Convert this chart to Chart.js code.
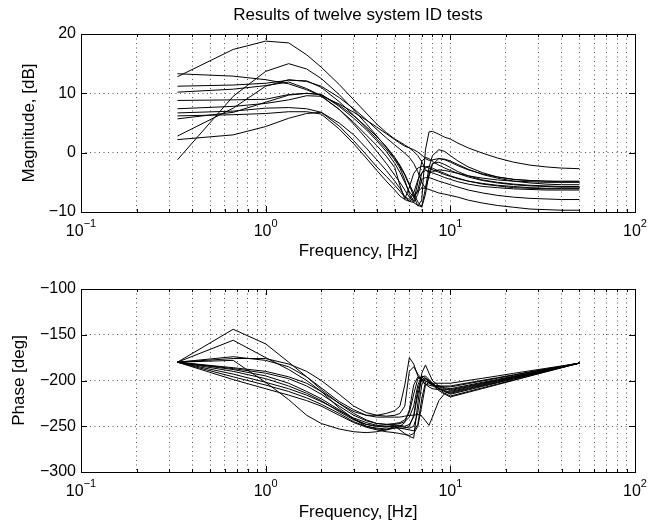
<!DOCTYPE html>
<html>
<head>
<meta charset="utf-8">
<script src="https://cdn.jsdelivr.net/npm/chart.js@4.4.1/dist/chart.umd.min.js"></script>
<style>
  html, body { margin: 0; padding: 0; background: #fff; }
  #wrap { position: relative; width: 660px; height: 523px; }
  #magBox { position: absolute; left: 0; top: 0; width: 660px; height: 262px; }
  #phBox { position: absolute; left: 0; top: 262px; width: 660px; height: 261px; }
</style>
</head>
<body>
<div id="wrap">
  <div id="magBox"><canvas id="mag" width="660" height="262"></canvas></div>
  <div id="phBox"><canvas id="ph" width="660" height="261"></canvas></div>
</div>
<script>
// frequencies of the measured points, Hz
const freq = [0.333, 0.667, 1.0, 1.333, 1.667, 2.0, 2.5, 3.0, 3.5, 4.0, 4.5, 5.0, 5.333, 5.667, 6.0, 6.333,
  6.667, 7.0, 7.333, 7.667, 8.0, 8.667, 9.333, 10, 11, 12.5, 15, 18, 22, 27, 33, 40, 50];

// magnitude, dB (one array per test)
const magT1 = [12.8, 17.4, 18.8, 18.5, 16.5, 14.4, 11.5, 8.9, 6.7, 4.8, 3.4, 2.3, 1.8, 1.3, 0.8, 0.2, -0.5, -1.5, -2.8, -3.5, -3.2, -2.9, -3.0, -3.2, -3.5, -3.9, -4.3, -4.6, -4.8, -4.9, -5.0, -5.0, -5.0];
const magT2 = [-1.2, 9.5, 13.7, 15.0, 14.1, 12.5, 9.8, 7.2, 4.9, 2.8, 0.9, -1.0, -2.3, -3.8, -5.5, -7.3, -9.0, -8.0, 0.5, 3.5, 3.6, 3.1, 2.6, 2.3, 1.6, 0.8, -0.1, -0.9, -1.6, -2.1, -2.4, -2.6, -2.7];
const magT3 = [2.8, 7.5, 11.2, 12.3, 12.0, 11.2, 9.3, 7.4, 5.6, 3.9, 2.5, 1.3, 0.6, -0.1, -0.8, -1.8, -3.2, -5.0, -6.0, -4.0, -2.0, -1.0, -1.2, -1.6, -2.2, -2.9, -3.6, -4.1, -4.5, -4.7, -4.8, -4.8, -4.8];
const magT4 = [13.3, 12.9, 12.3, 11.6, 10.6, 9.6, 8.2, 6.8, 5.5, 4.3, 3.2, 2.2, 1.6, 1.1, 0.8, 0.5, 0.1, -0.4, -1.0, -1.3, -1.2, -1.0, -1.1, -1.4, -2.0, -2.8, -3.7, -4.3, -4.8, -5.1, -5.3, -5.4, -5.4];
const magT5 = [11.2, 11.4, 11.7, 12.2, 12.1, 11.0, 8.6, 6.3, 4.2, 2.3, 0.6, -1.2, -2.6, -4.6, -7.0, -8.2, -5.0, -1.5, -0.8, -1.0, -1.5, -2.1, -2.6, -3.0, -3.5, -4.1, -4.7, -5.1, -5.4, -5.6, -5.7, -5.8, -5.8];
const magT6 = [10.2, 10.7, 11.3, 11.9, 10.8, 9.6, 7.3, 5.1, 3.0, 1.2, -0.6, -2.5, -5.5, -7.8, -5.8, -3.5, -2.6, -2.3, -2.4, -2.6, -2.9, -3.3, -3.7, -4.0, -4.4, -4.8, -5.3, -5.6, -5.9, -6.0, -6.1, -6.1, -6.1];
const magT7 = [8.8, 8.9, 9.0, 9.8, 10.0, 9.8, 7.8, 5.8, 3.9, 2.0, 0.2, -1.8, -3.3, -5.0, -6.6, -7.5, -6.3, -3.5, -2.4, -2.3, -2.6, -3.1, -3.5, -3.9, -4.3, -4.8, -5.2, -5.5, -5.7, -5.9, -6.0, -6.0, -6.0];
const magT8 = [7.4, 7.8, 8.3, 8.9, 9.6, 9.5, 7.3, 4.8, 2.4, 0.2, -1.8, -3.8, -5.0, -6.3, -7.5, -8.4, -8.9, -9.1, -6.0, -2.5, -0.5, 0.5, 0.2, -0.5, -1.4, -2.4, -3.4, -4.1, -4.5, -4.7, -4.8, -4.9, -4.9];
const magT9 = [6.7, 7.0, 7.5, 7.6, 7.4, 6.8, 4.5, 2.0, -0.3, -2.4, -4.0, -5.5, -6.5, -7.5, -8.2, -8.4, -7.0, -4.5, -4.2, -4.2, -4.4, -4.8, -5.1, -5.4, -5.8, -6.3, -6.8, -7.2, -7.5, -7.7, -7.8, -7.9, -7.9];
const magT10 = [6.2, 6.4, 6.6, 6.9, 6.9, 6.5, 4.0, 1.5, -0.9, -3.0, -4.8, -6.3, -7.3, -7.9, -8.2, -7.6, -6.5, -6.0, -6.0, -6.2, -6.4, -6.8, -7.0, -7.2, -7.5, -8.0, -8.5, -8.9, -9.2, -9.5, -9.6, -9.7, -9.7];
const magT11 = [5.7, 6.8, 8.5, 9.7, 10.0, 9.8, 8.0, 6.2, 4.4, 2.7, 1.0, -0.8, -2.1, -3.6, -5.3, -6.8, -8.3, -9.2, -7.0, -3.5, -1.8, -1.6, -2.0, -2.5, -3.2, -3.9, -4.6, -5.0, -5.3, -5.5, -5.6, -5.7, -5.7];
const magT12 = [2.2, 3.0, 4.4, 5.8, 6.6, 6.8, 5.0, 3.0, 0.8, -1.2, -3.0, -4.8, -6.0, -7.4, -7.9, -6.8, -4.6, -3.4, -3.0, -3.1, -3.4, -3.8, -4.2, -4.5, -4.9, -5.3, -5.7, -5.9, -6.1, -6.2, -6.3, -6.3, -6.3];

// phase, deg (one array per test)
const phT1 = [-180, -144, -160, -180, -196, -210, -225, -234, -238, -238, -236, -233, -228, -205, -175, -182, -195, -201, -204, -205, -206, -206, -206, -206, -204.5, -202.5, -199.7, -196.9, -193.8, -190.5, -187.4, -184.5, -181];
const phT2 = [-180, -156, -175, -188, -200, -212, -230, -242, -250, -253, -254, -250, -254, -258, -261, -263, -225, -192, -183, -192, -200, -206, -208, -209, -207.3, -205.1, -201.9, -198.8, -195.3, -191.7, -188.2, -184.9, -181];
const phT3 = [-180, -174, -178, -185, -196, -208, -223, -232, -238, -240, -240, -240, -240, -239, -238, -238, -237, -239, -244, -249, -240, -222, -214, -212, -210.2, -207.7, -204.2, -200.7, -196.8, -192.8, -189.0, -185.3, -181];
const phT4 = [-180, -178, -202, -221, -238, -247, -253, -256, -257, -256, -254, -252, -250, -246, -232, -205, -196, -199, -204, -207, -209, -210, -210, -210, -208.3, -206.0, -202.7, -199.4, -195.8, -192.1, -188.5, -185.0, -181];
const phT5 = [-180, -186, -190, -196, -203, -212, -225, -236, -243, -247, -248, -247, -246, -243, -235, -215, -198, -196, -200, -203, -205, -206, -207, -207, -205.5, -203.4, -200.5, -197.5, -194.3, -190.9, -187.7, -184.6, -181];
const phT6 = [-180, -187, -192, -198, -206, -215, -228, -238, -244, -247, -248, -248, -247, -245, -240, -228, -205, -195, -197, -201, -204, -207, -209, -211, -209.2, -206.8, -203.4, -200.1, -196.3, -192.5, -188.7, -185.2, -181];
const phT7 = [-180, -188, -195, -203, -212, -220, -232, -242, -248, -250, -250, -249, -249, -250, -248, -240, -215, -199, -198, -202, -205, -209, -211, -213, -211.1, -208.6, -204.9, -201.3, -197.4, -193.2, -189.3, -185.5, -181];
const phT8 = [-180, -190, -198, -206, -214, -222, -234, -243, -248, -250, -251, -250, -250, -251, -252, -250, -235, -205, -198, -200, -204, -209, -212, -215, -213, -210.3, -206.4, -202.6, -198.4, -194, -189.8, -185.7, -181];
const phT9 = [-180, -193, -202, -209, -216, -223, -233, -241, -246, -249, -250, -251, -252, -253, -254, -255, -248, -220, -202, -199, -203, -209, -214, -217, -214.9, -212, -207.9, -203.9, -199.4, -194.8, -190.3, -186, -181];
const phT10 = [-180, -196, -205, -212, -219, -226, -236, -245, -250, -252, -253, -252, -252, -252, -250, -238, -210, -196, -195, -199, -203, -208, -212, -214, -212, -209.4, -205.7, -202, -197.9, -193.6, -189.5, -185.6, -181];
const phT11 = [-180, -199, -209, -216, -222, -228, -238, -246, -251, -254, -256, -257, -258, -259, -260, -258, -250, -228, -205, -202, -205, -211, -215, -218, -215.8, -212.9, -208.7, -204.5, -199.9, -195.1, -190.5, -186.1, -181];
const phT12 = [-180, -176, -176, -182, -190, -200, -215, -228, -235, -238, -239, -238, -236, -228, -190, -185, -193, -198, -201, -202, -203, -203, -203, -203, -201.7, -199.9, -197.5, -195, -192.2, -189.4, -186.7, -184.1, -181];

const magSeries = [magT1, magT2, magT3, magT4, magT5, magT6, magT7, magT8, magT9, magT10, magT11, magT12];
const phSeries = [phT1, phT2, phT3, phT4, phT5, phT6, phT7, phT8, phT9, phT10, phT11, phT12];

// axis ranges and tick labels
const decades = [-1, 0, 1, 2];          // x labels 10^-1 ... 10^2
const magTicks = [-10, 0, 10, 20];
const phTicks = [-300, -250, -200, -150, -100];

const FONT = '"Liberation Sans", Arial, Helvetica, sans-serif';

// log ticks 1..9 x 10^n, only 10^n are major
const logTicks = [];
decades.forEach((e, i) => {
  const last = i === decades.length - 1;
  for (let k = 1; k <= (last ? 1 : 9); k++) {
    logTicks.push({ value: +(k * Math.pow(10, e)).toPrecision(6), major: k === 1 });
  }
});

const minus = v => String(v).replace('-', '\u2212');

// box, inward ticks, 10^n labels and title
const frame = {
  id: 'frame',
  afterDraw(chart, args, opts) {
    const { ctx, chartArea: a, scales: { x, y } } = chart;
    ctx.save();
    ctx.strokeStyle = '#000';
    ctx.lineWidth = 1;
    ctx.beginPath();
    x.ticks.forEach(t => {
      const px = Math.round(x.getPixelForValue(t.value)) + 0.5;
      const len = t.major ? 6 : 3;
      ctx.moveTo(px, a.bottom); ctx.lineTo(px, a.bottom - len);
      ctx.moveTo(px, a.top); ctx.lineTo(px, a.top + len);
    });
    y.ticks.forEach(t => {
      const py = Math.round(y.getPixelForValue(t.value)) + 0.5;
      ctx.moveTo(a.left, py); ctx.lineTo(a.left + 6, py);
      ctx.moveTo(a.right, py); ctx.lineTo(a.right - 6, py);
    });
    ctx.stroke();
    ctx.strokeRect(Math.round(a.left) + 0.5, Math.round(a.top) + 0.5,
      Math.round(a.right - a.left), Math.round(a.bottom - a.top));

    ctx.fillStyle = '#000';
    ctx.textBaseline = 'middle';
    ctx.textAlign = 'left';
    decades.forEach(e => {
      const px = x.getPixelForValue(Math.pow(10, e));
      ctx.font = '16px ' + FONT;
      const wb = ctx.measureText('10').width;
      ctx.font = '11px ' + FONT;
      const ex = minus(e);
      const we = ctx.measureText(ex).width;
      const x0 = px - (wb + we) / 2;
      const yb = a.bottom + 20;
      ctx.font = '16px ' + FONT;
      ctx.fillText('10', x0, yb);
      ctx.font = '11px ' + FONT;
      ctx.fillText(ex, x0 + wb, yb - 8);
    });

    if (opts.title) {
      ctx.font = '17px ' + FONT;
      ctx.textAlign = 'center';
      ctx.fillText(opts.title, (a.left + a.right) / 2, 15);
    }
    ctx.restore();
  }
};

function makeChart(id, series, ticks, yLabel, yTitlePad, topPad, xAxisH, xTitlePad, title) {
  const yMin = ticks[0], yMax = ticks[ticks.length - 1];
  return new Chart(document.getElementById(id), {
    type: 'line',
    data: {
      datasets: series.map((s, i) => ({
        label: 'Test ' + (i + 1),
        data: s.map((v, j) => ({ x: freq[j], y: v })),
        borderColor: '#000',
        borderWidth: 1,
        pointRadius: 0,
        tension: 0,
        fill: false
      }))
    },
    options: {
      responsive: false,
      animation: false,
      devicePixelRatio: 1,
      layout: { padding: { left: 0, right: 25, top: topPad, bottom: 0 } },
      plugins: { legend: { display: false }, tooltip: { enabled: false }, frame: { title } },
      scales: {
        x: {
          type: 'logarithmic',
          min: 0.1,
          max: 100,
          afterBuildTicks: s => { s.ticks = logTicks.map(t => ({ ...t })); },
          afterFit: s => { s.height = xAxisH; },
          ticks: { display: false, autoSkip: false },
          grid: {
            drawTicks: false,
            lineWidth: 1,
            color: c => (c.index === 0 || c.index === logTicks.length - 1) ? 'rgba(0,0,0,0)' : '#555'
          },
          border: { display: false, dash: [1, 3.5] },
          title: {
            display: true, text: 'Frequency, [Hz]', color: '#000',
            font: { family: FONT, size: 17 }, padding: { top: 0, bottom: xTitlePad }
          }
        },
        y: {
          min: yMin,
          max: yMax,
          afterBuildTicks: s => { s.ticks = ticks.map(v => ({ value: v })); },
          afterFit: s => { s.width = 81; },
          ticks: {
            color: '#000', padding: 5, autoSkip: false,
            font: { family: FONT, size: 16 },
            callback: v => minus(v)
          },
          grid: {
            drawTicks: false,
            lineWidth: 1,
            color: c => (c.tick && (c.tick.value === yMin || c.tick.value === yMax)) ? 'rgba(0,0,0,0)' : '#555'
          },
          border: { display: false, dash: [1, 3.5] },
          title: {
            display: true, text: yLabel, color: '#000',
            font: { family: FONT, size: 17 }, padding: { top: yTitlePad, bottom: 0 }
          }
        }
      }
    },
    plugins: [frame]
  });
}

makeChart('mag', magSeries, magTicks, 'Magnitude, [dB]', 19, 34, 50, 0, 'Results of twelve system ID tests');
makeChart('ph', phSeries, phTicks, 'Phase [deg]', 9.5, 27, 51, 0.8, null);
</script>
</body>
</html>
